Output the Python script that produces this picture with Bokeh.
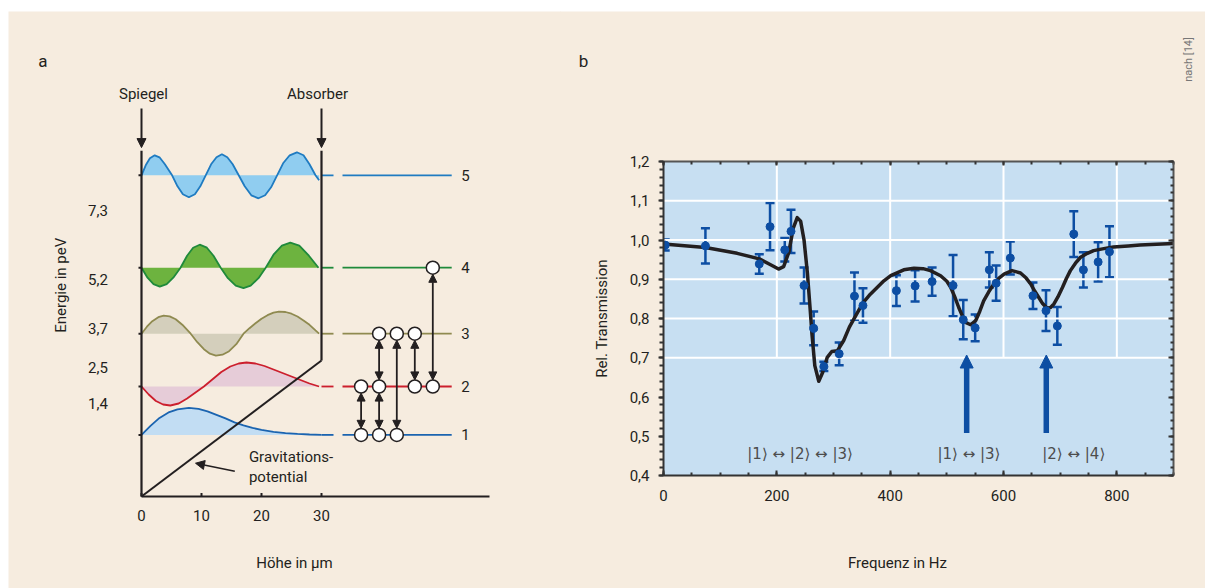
import numpy as np
from bokeh.plotting import figure
from bokeh.layouts import row, column
from bokeh.models import (ColumnDataSource, Arrow, NormalHead, Whisker, TeeHead, LinearAxis,
                          SingleIntervalTicker, FixedTicker, Range1d, Spacer)
from bokeh.core.properties import value
from bokeh.embed import file_html
from bokeh.resources import INLINE

FONT = "Roboto"
KET_FONT = "DejaVu Sans"
BEIGE = "#f6ecdf"
TXT = "#231f20"
BLUE = "#0d4ea3"

# ---------------- panel a data ----------------
level_E = [1.4, 2.5, 3.7, 5.2, 7.3]
level_names = ["1", "2", "3", "4", "5"]
energy_labels = ["1,4", "2,5", "3,7", "5,2", "7,3"]
line_colors = ["#1b64b0", "#cc1f2d", "#8f8a50", "#1f8a3b", "#1f7bc1"]
fill_colors = ["#c2ddf3", "#e6ccd8", "#d4cfbc", "#6db33f", "#90cdf0"]
height_ticks = [0, 10, 20, 30]
pot_z = [0, 30]
pot_E = [0, 3.09]
wall_top = 7.86

psi1_z = [0, 1.5, 3.0, 4.5, 6.0, 7.9, 9.5, 11.0, 12.5, 14.0, 15.5, 17.0, 18.5, 20.0, 22.0, 24.0, 26.0, 28.0, 30.0]
psi1 = [0, 9, 17, 22.5, 25.5, 27, 26, 23.5, 20, 16.5, 12.5, 9.5, 7, 5, 3, 1.8, 1, 0.4, 0]

psi2_z = [0, 1.2, 2.4, 3.6, 4.8, 6.2, 7.6, 9.0, 10.4, 11.8, 13.3, 14.8, 16.2, 17.5, 19.0, 20.5, 22.0, 23.5, 25.0, 26.5, 28.0, 29.6]
psi2 = [0, -8, -14.5, -18, -19, -17, -12, -6, 0, 7, 14.5, 20, 23, 24, 23, 20.5, 17, 13.5, 10, 6.5, 3, 0]

psi3_z = [0, 0.9, 1.8, 2.8, 3.7, 4.7, 5.7, 6.8, 8.2, 9.3, 10.4, 11.4, 12.4, 13.5, 14.6, 15.8, 17.0,
          18.0, 19.0, 20.0, 21.0, 22.0, 22.9, 24.0, 25.0, 26.0, 27.0, 28.0, 29.0, 29.6]
psi3 = [0, 7, 12.5, 16.5, 18, 17.3, 14.5, 9, 0, -8.5, -15.5, -20, -22, -21, -17.5, -10.5, 0,
        5.5, 10.5, 15, 18.5, 21, 22, 21.7, 20, 17.2, 13.3, 8.9, 3.3, 0]

psi4_z = [0, 1.0, 2.0, 3.05, 4.2, 5.3, 6.5, 7.6, 8.6, 9.7, 10.9, 12.0, 13.2, 14.4, 15.7, 17.0, 18.2,
          19.5, 20.7, 22.0, 23.4, 24.8, 26.3, 27.9, 29.5]
psi4 = [0, -10, -16.5, -19, -16.5, -10, 0, 12, 20, 23, 20, 12, 0, -10.5, -18, -20.5, -18, -10.5, 0,
        13, 22, 25, 22, 12, 0]

psi5_z = [0, 0.7, 1.4, 2.2, 3.0, 3.9, 5.1, 6.0, 6.9, 7.9, 8.9, 9.8, 10.7, 11.6, 12.5, 13.4, 14.3, 15.2,
          16.2, 17.2, 18.3, 19.5, 20.6, 21.6, 22.6, 23.6, 24.7, 25.9, 27.0, 28.0, 29.0, 29.6]
psi5 = [0, 10, 17, 20, 18, 11, 0, -11, -19, -22, -19, -11, 0, 11, 18, 21, 18, 11, 0, -11, -20, -23,
        -20, -12, 0, 12, 20, 23, 20, 11, 0, -5]

waves_z = [psi1_z, psi2_z, psi3_z, psi4_z, psi5_z]
waves = [psi1, psi2, psi3, psi4, psi5]
psi_scale = 1.0 / 44.0  # wavefunction units -> peV on the drawing

# transition scheme
circle_z = [36.6, 39.6, 42.55, 36.6, 39.6, 45.55, 48.55, 39.6, 42.55, 45.55, 48.55]
circle_level = [1, 1, 1, 2, 2, 2, 2, 3, 3, 3, 4]
trans_z = [36.6, 39.6, 39.6, 42.55, 45.55, 48.55]
trans_from = [1, 1, 2, 1, 2, 2]
trans_to = [2, 2, 3, 3, 3, 4]

# ---------------- panel b data ----------------
freq = [3, 74, 169, 188, 214, 225, 248, 265, 283, 310, 337, 352, 411, 444, 474, 511, 529, 550,
        575, 587, 612, 652, 675, 695, 724, 741, 767, 787]
trans = [0.987, 0.985, 0.939, 1.034, 0.975, 1.022, 0.884, 0.775, 0.678, 0.710, 0.857, 0.833,
         0.871, 0.883, 0.894, 0.884, 0.797, 0.776, 0.924, 0.890, 0.954, 0.858, 0.820, 0.781,
         1.015, 0.924, 0.944, 0.970]
err = [0.014, 0.045, 0.025, 0.060, 0.030, 0.055, 0.046, 0.043, 0.012, 0.029, 0.060, 0.044,
       0.039, 0.040, 0.036, 0.078, 0.050, 0.034, 0.045, 0.045, 0.042, 0.034, 0.052, 0.048,
       0.058, 0.045, 0.050, 0.065]

fit_f = [0, 74, 130, 169, 189, 203, 212, 221, 229, 236, 242, 248, 254, 259, 262, 267, 274, 281,
         289, 297, 307, 318, 328, 341, 352, 365, 377, 389, 401, 412, 424, 442, 458, 471, 489, 500,
         507, 514, 521, 527, 533, 542, 551, 558, 565, 574, 583, 592, 601, 615, 630, 640, 648, 655,
         662, 669, 677, 683, 689, 696, 704, 711, 718, 727, 736, 748, 759, 777, 794, 820, 841, 870, 900]
fit_T = [0.990, 0.981, 0.966, 0.952, 0.937, 0.926, 0.932, 0.968, 1.030, 1.057, 1.048, 1.000,
         0.915, 0.820, 0.760, 0.680, 0.640, 0.663, 0.701, 0.716, 0.718, 0.744, 0.778, 0.812,
         0.840, 0.862, 0.879, 0.896, 0.909, 0.916, 0.924, 0.928, 0.927, 0.922, 0.909, 0.895,
         0.879, 0.855, 0.828, 0.808, 0.790, 0.784, 0.795, 0.818, 0.845, 0.868, 0.888, 0.903,
         0.913, 0.922, 0.916, 0.903, 0.888, 0.870, 0.854, 0.838, 0.826, 0.828, 0.837, 0.855,
         0.879, 0.902, 0.922, 0.941, 0.956, 0.966, 0.973, 0.978, 0.982, 0.985, 0.987, 0.989, 0.991]

y_ticks = [0.4, 0.5, 0.6, 0.7, 0.8, 0.9, 1.0, 1.1, 1.2]
y_tick_labels = ["0,4", "0,5", "0,6", "0,7", "0,8", "0,9", "1,0", "1,1", "1,2"]
grid_h = [0.7, 0.8, 0.9, 1.0, 1.1]
grid_v = [200, 400, 600, 800]
ket_text = ["|1\u27e9 \u2194 |2\u27e9 \u2194 |3\u27e9", "|1\u27e9 \u2194 |3\u27e9", "|2\u27e9 \u2194 |4\u27e9"]
ket_hz = [241, 539, 724]
arrow_hz = [535, 675.5]

H = 577
WA = 553
WB = 645
HZ_RANGE = (-181.76, 956.47)

def blank(width, height, xr, yr, **kw):
    f = figure(width=width, height=height, x_range=Range1d(*xr), y_range=Range1d(*yr),
               x_axis_location=None, y_axis_location=None, toolbar_location=None,
               output_backend="svg", min_border=0, background_fill_color=BEIGE,
               border_fill_color=BEIGE, outline_line_color=None, **kw)
    f.frame_align = False
    f.grid.visible = False
    return f

# =============== panel a ===============
p1 = blank(WA, H, (-22.1667, 70.0), (-2.0909, 11.0227))

for k in range(5):
    E = level_E[k]
    z = np.array(waves_z[k])
    y = E + np.array(waves[k]) * psi_scale
    p1.varea(x=z, y1=np.full(len(z), E), y2=y, fill_color=fill_colors[k])
    p1.line(z, y, line_color=line_colors[k], line_width=1.8)
    p1.segment(x0=[30, 33.5], y0=[E, E], x1=[32, 51.7], y1=[E, E],
               line_color=line_colors[k], line_width=1.8)
    p1.text(x=[54.0], y=[E], text=[level_names[k]], text_font=value(FONT),
            text_font_size="15px", text_color=TXT, text_align="center", text_baseline="middle")

p1.segment(x0=[0, 30, 0], y0=[0, pot_E[1], 0], x1=[0, 30, 58], y1=[wall_top, wall_top, 0],
           line_color=TXT, line_width=2.2)
p1.line(pot_z, pot_E, line_color=TXT, line_width=2)
p1.segment(x0=height_ticks, y0=[0] * 4, x1=height_ticks, y1=[0.08] * 4, line_color=TXT, line_width=2)
p1.segment(x0=[-0.5] * 5, y0=level_E, x1=[0] * 5, y1=level_E, line_color=TXT, line_width=2)

lvl = {i + 1: level_E[i] for i in range(5)}
r = 0.15
for zz, a, b in zip(trans_z, trans_from, trans_to):
    p1.add_layout(Arrow(start=NormalHead(size=8, fill_color=TXT, line_color=TXT, line_width=1),
                        end=NormalHead(size=8, fill_color=TXT, line_color=TXT, line_width=1),
                        x_start=zz, y_start=lvl[a] + r, x_end=zz, y_end=lvl[b] - r,
                        line_color=TXT, line_width=1.8))
p1.scatter(circle_z, [lvl[c] for c in circle_level], size=13, fill_color="white",
           line_color=TXT, line_width=1.5)

for zz in [0, 30]:
    p1.add_layout(Arrow(end=NormalHead(size=9, fill_color=TXT, line_color=TXT, line_width=1),
                        x_start=zz, y_start=8.82, x_end=zz, y_end=7.93,
                        line_color=TXT, line_width=2))
p1.add_layout(Arrow(end=NormalHead(size=9, fill_color=TXT, line_color=TXT, line_width=1),
                    x_start=15.55, y_start=0.575, x_end=9.0, y_end=0.757,
                    line_color=TXT, line_width=1.6))

def txt(fig, x, y, s, size="15px", align="center", angle=0.0, color=TXT, font=FONT):
    fig.text(x=[x], y=[y], text=[s], text_font=value(font), text_font_size=size,
             text_color=color, text_align=align, text_baseline="middle", angle=angle)

txt(p1, 0.33, 9.148, "Spiegel")
txt(p1, 29.33, 9.148, "Absorber")
txt(p1, -16.45, 9.89, "a", size="17px")
txt(p1, -13.5, 4.8, "Energie in peV", angle=np.pi / 2)
txt(p1, 25.5, -1.516, "Höhe in µm")
txt(p1, 17.9, 0.893, "Gravitations-", align="left")
txt(p1, 17.9, 0.4545, "potential", align="left")
for E, s in zip(level_E, energy_labels):
    txt(p1, -7.25, 1.08 + 0.742 * E, s)
for h in height_ticks:
    txt(p1, h, -0.432, str(h))

# =============== panel b: header strip ===============
p2top = blank(WB, 101, HZ_RANGE, (1.3248, 1.5822))
txt(p2top, -141.2, 1.456, "b", size="17px")
txt(p2top, 926.5, 1.46, "nach [14]", size="11px", angle=np.pi / 2, color="#777777")

# =============== panel b: plot ===============
p2 = figure(width=WB, height=410, x_range=Range1d(0, 900), y_range=Range1d(0.4, 1.2),
            toolbar_location=None, output_backend="svg",
            min_border_left=103, min_border_right=32, min_border_top=50, min_border_bottom=46,
            background_fill_color="#c7dff2", border_fill_color=BEIGE, outline_line_color=None,
            margin=(-1, 0, 0, 0))
p2.frame_align = False
p2.grid.visible = False

ax_col = "#333333"
minor_y = [round(0.4 + 0.02 * i, 2) for i in range(41)]

xa = p2.xaxis[0]
xa.ticker = SingleIntervalTicker(interval=200, num_minor_ticks=4)
xa.major_tick_in, xa.major_tick_out = 5, 0
xa.minor_tick_in, xa.minor_tick_out = 3, 0
xa.major_label_standoff = 14
xa.major_label_text_font = FONT
xa.major_label_text_font_size = "15px"
xa.major_label_text_color = TXT

ya = p2.yaxis[0]
ya.ticker = FixedTicker(ticks=y_ticks, minor_ticks=minor_y)
ya.major_label_overrides = dict(zip(y_ticks, y_tick_labels))
ya.major_tick_in, ya.major_tick_out = 0, 5
ya.minor_tick_in, ya.minor_tick_out = 0, 4
ya.major_label_standoff = 9
ya.major_label_text_font = FONT
ya.major_label_text_font_size = "15px"
ya.major_label_text_color = TXT
ya.axis_label = "Rel. Transmission"
ya.axis_label_standoff = 16
ya.axis_label_text_font = FONT
ya.axis_label_text_font_size = "15px"
ya.axis_label_text_font_style = "normal"
ya.axis_label_text_color = TXT

for ax in (xa, ya):
    ax.axis_line_color = ax_col
    ax.axis_line_width = 2
    ax.major_tick_line_color = ax_col
    ax.minor_tick_line_color = ax_col
    ax.major_tick_line_width = 2
    ax.minor_tick_line_width = 2

top = LinearAxis(ticker=SingleIntervalTicker(interval=200, num_minor_ticks=4),
                 major_label_text_color=None, major_label_text_font_size="1px",
                 major_tick_in=4, major_tick_out=0, minor_tick_in=3, minor_tick_out=0,
                 axis_line_color="#555555", axis_line_width=2,
                 major_tick_line_color=ax_col, minor_tick_line_color=ax_col,
                 major_tick_line_width=2, minor_tick_line_width=2, major_label_standoff=0)
p2.add_layout(top, "above")
right = LinearAxis(ticker=FixedTicker(ticks=y_ticks, minor_ticks=minor_y),
                   major_label_text_color=None, major_label_text_font_size="1px",
                   major_tick_in=5, major_tick_out=0, minor_tick_in=3, minor_tick_out=0,
                   axis_line_color="#555555", axis_line_width=2,
                   major_tick_line_color=ax_col, minor_tick_line_color=ax_col,
                   major_tick_line_width=2, minor_tick_line_width=2, major_label_standoff=0)
p2.add_layout(right, "right")

p2.segment(x0=[0] * len(grid_h), y0=grid_h, x1=[900] * len(grid_h), y1=grid_h,
           line_color="white", line_width=2)
p2.segment(x0=grid_v, y0=[0.7] * len(grid_v), x1=grid_v, y1=[1.2] * len(grid_v),
           line_color="white", line_width=2)

p2.line(fit_f, fit_T, line_color="#231f20", line_width=3.5, line_join="round")

src = ColumnDataSource(dict(f=freq, T=trans,
                            up=[t + e for t, e in zip(trans, err)],
                            lo=[t - e for t, e in zip(trans, err)]))
p2.add_layout(Whisker(source=src, base="f", upper="up", lower="lo", line_color=BLUE, line_width=2.5,
                      upper_head=TeeHead(size=9, line_color=BLUE, line_width=2.5),
                      lower_head=TeeHead(size=9, line_color=BLUE, line_width=2.5)))
p2.scatter("f", "T", source=src, size=8, color=BLUE)

p2.segment(x0=arrow_hz, y0=[0.508] * 2, x1=arrow_hz, y1=[0.68] * 2, line_color=BLUE, line_width=5.5)
for hz in arrow_hz:
    p2.add_layout(Arrow(end=NormalHead(size=13, fill_color=BLUE, line_color=BLUE, line_width=1),
                        x_start=hz, y_start=0.67, x_end=hz, y_end=0.707, line_alpha=0))

p2.text(x=ket_hz, y=[0.455] * 3, text=ket_text, text_font=value(KET_FONT), text_font_size="15px",
        text_color="#4d4d4d", text_align="center", text_baseline="middle")

# =============== panel b: footer strip ===============
p2bot = blank(WB, 68, HZ_RANGE, (0.1121, 0.2854), margin=(-1, 0, 0, 0))
txt(p2bot, 412.9, 0.176, "Frequenz in Hz")

right_col = column(p2top, p2, p2bot, margin=(0, 0, 0, -1))
layout = column(Spacer(height=11), row(Spacer(width=8), p1, right_col))
open("out.html", "w").write(file_html(layout, INLINE))
